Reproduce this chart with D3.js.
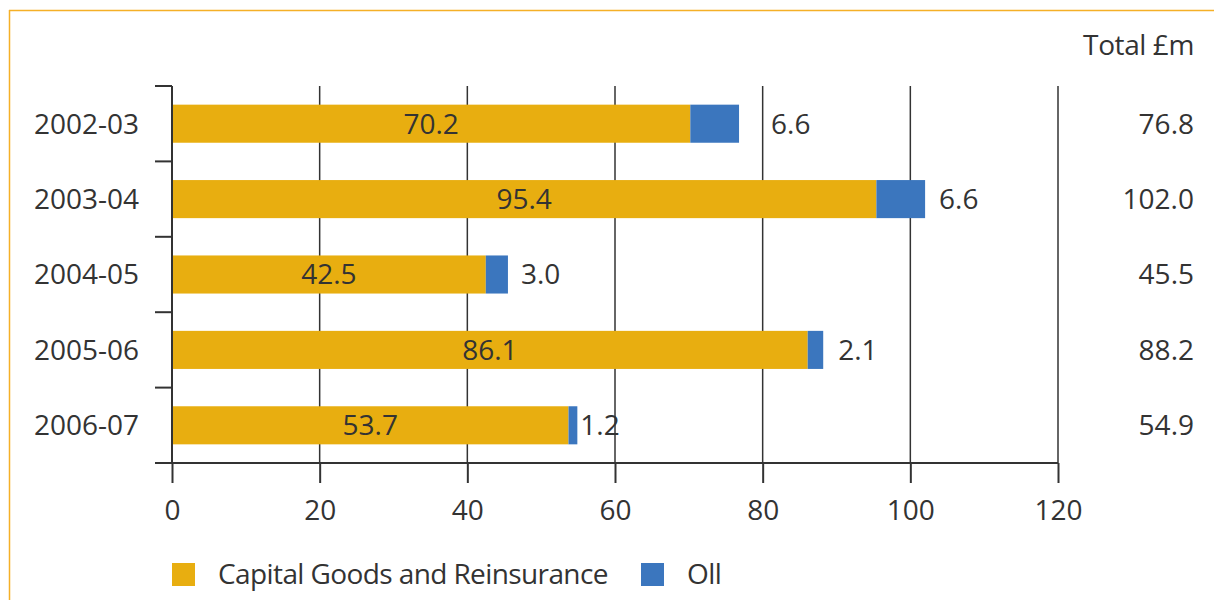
<!DOCTYPE html>
<html>
<head>
<meta charset="utf-8">
<script src="https://cdn.jsdelivr.net/npm/d3@7"></script>
<style>
  html, body { margin: 0; padding: 0; background: #fff; }
  svg { display: block; }
  text { font-family: "Open Sans", "Noto Sans", sans-serif; fill: #333; }
</style>
</head>
<body>
<svg id="chart" width="1214" height="600"></svg>
<script>
// Premium income by year, £m
const years = ["2002-03", "2003-04", "2004-05", "2005-06", "2006-07"];
const capitalGoods = [70.2, 95.4, 42.5, 86.1, 53.7];
const oii = [6.6, 6.6, 3.0, 2.1, 1.2];
const totals = [76.8, 102.0, 45.5, 88.2, 54.9];
const xTicks = [0, 20, 40, 60, 80, 100, 120];
const seriesNames = ["Capital Goods and Reinsurance", "Oll"];

// Layout tweaks: extra horizontal offset for the small OII labels
const oiiLabelDx = [32, 14, 13, 15, 3];

const colors = { capital: "#E8AE10", oii: "#3B76BE", frame: "#F5B027", ink: "#333333" };
const fontSize = 28;

const svg = d3.select("#chart");

// frame lines along top and left
svg.append("line").attr("x1", 9).attr("x2", 1214).attr("y1", 10.5).attr("y2", 10.5)
  .attr("stroke", colors.frame).attr("stroke-width", 1.5);
svg.append("line").attr("x1", 9.5).attr("x2", 9.5).attr("y1", 10).attr("y2", 600)
  .attr("stroke", colors.frame).attr("stroke-width", 1.5);

const x = d3.scaleLinear().domain([0, 120]).range([172, 1058]);
const y = d3.scaleBand().domain(years).range([86, 463]).padding(0);
const barH = y.bandwidth() * 0.505;

const g = svg.append("g");

// vertical gridlines
g.selectAll("line.grid").data(xTicks.slice(1)).join("line")
  .attr("class", "grid")
  .attr("x1", d => x(d)).attr("x2", d => x(d))
  .attr("y1", y.range()[0]).attr("y2", y.range()[1])
  .attr("stroke", colors.ink).attr("stroke-width", 1.5);

// x axis
const xAxis = d3.axisBottom(x).tickValues(xTicks).tickSize(20).tickPadding(10).tickSizeOuter(0);
const gx = g.append("g").attr("transform", `translate(0,${y.range()[1]})`).call(xAxis);
gx.select(".domain").remove();
gx.selectAll(".tick line").attr("stroke", colors.ink).attr("stroke-width", 2);
gx.selectAll(".tick text").attr("font-size", fontSize).attr("fill", colors.ink)
  .style("font-family", "'Open Sans', sans-serif").attr("dy", "0.95em");
g.append("line").attr("x1", 155).attr("x2", x(120)).attr("y1", y.range()[1]).attr("y2", y.range()[1])
  .attr("stroke", colors.ink).attr("stroke-width", 2);

// y axis: line with ticks at band boundaries
const boundaries = years.map(d => y(d)).concat([y.range()[1]]);
g.append("line").attr("x1", x(0)).attr("x2", x(0)).attr("y1", y.range()[0]).attr("y2", y.range()[1])
  .attr("stroke", colors.ink).attr("stroke-width", 2);
g.selectAll("line.ytick").data(boundaries.slice(0, -1)).join("line")
  .attr("class", "ytick")
  .attr("x1", 155).attr("x2", x(0)).attr("y1", d => d).attr("y2", d => d)
  .attr("stroke", colors.ink).attr("stroke-width", 2);

// category labels
g.selectAll("text.cat").data(years).join("text")
  .attr("class", "cat")
  .attr("x", 139).attr("y", d => y(d) + y.bandwidth() / 2)
  .attr("dy", "0.35em").attr("text-anchor", "end").attr("font-size", fontSize)
  .text(d => d);

const rows = years.map((yr, i) => ({ yr, cg: capitalGoods[i], oii: oii[i], total: totals[i], i }));
const barY = d => y(d.yr) + (y.bandwidth() - barH) / 2;

// stacked bars
g.selectAll("rect.cg").data(rows).join("rect")
  .attr("class", "cg")
  .attr("x", x(0) + 1).attr("y", barY)
  .attr("width", d => x(d.cg) - x(0) - 1).attr("height", barH)
  .attr("fill", colors.capital);
g.selectAll("rect.oii").data(rows).join("rect")
  .attr("class", "oii")
  .attr("x", d => x(d.cg)).attr("y", barY)
  .attr("width", d => x(d.cg + d.oii) - x(d.cg)).attr("height", barH)
  .attr("fill", colors.oii);

// value labels
g.selectAll("text.cgval").data(rows).join("text")
  .attr("class", "cgval")
  .attr("x", d => (x(0) + x(d.cg)) / 2).attr("y", d => y(d.yr) + y.bandwidth() / 2)
  .attr("dy", "0.35em").attr("text-anchor", "middle").attr("font-size", fontSize)
  .text(d => d.cg.toFixed(1));
g.selectAll("text.oiival").data(rows).join("text")
  .attr("class", "oiival")
  .attr("x", d => x(d.cg + d.oii) + oiiLabelDx[d.i]).attr("y", d => y(d.yr) + y.bandwidth() / 2)
  .attr("dy", "0.35em").attr("text-anchor", "start").attr("font-size", fontSize)
  .text(d => d.oii.toFixed(1));

// totals column
svg.append("text").attr("x", 1194).attr("y", 55).attr("text-anchor", "end")
  .attr("font-size", fontSize).attr("letter-spacing", -0.4).text("Total £m");
g.selectAll("text.total").data(rows).join("text")
  .attr("class", "total")
  .attr("x", 1194).attr("y", d => y(d.yr) + y.bandwidth() / 2)
  .attr("dy", "0.35em").attr("text-anchor", "end").attr("font-size", fontSize)
  .text(d => d.total.toFixed(1));

// legend
const legendItems = [
  { name: seriesNames[0], color: colors.capital, x: 172 },
  { name: seriesNames[1], color: colors.oii, x: 641 }
];
const lg = svg.append("g");
const li = lg.selectAll("g").data(legendItems).join("g")
  .attr("transform", d => `translate(${d.x},563)`);
li.append("rect").attr("width", 23).attr("height", 23).attr("fill", d => d.color);
li.append("text").attr("x", 46).attr("y", 11.5).attr("dy", "0.35em")
  .attr("font-size", fontSize).attr("letter-spacing", -0.6).text(d => d.name);
</script>
</body>
</html>
